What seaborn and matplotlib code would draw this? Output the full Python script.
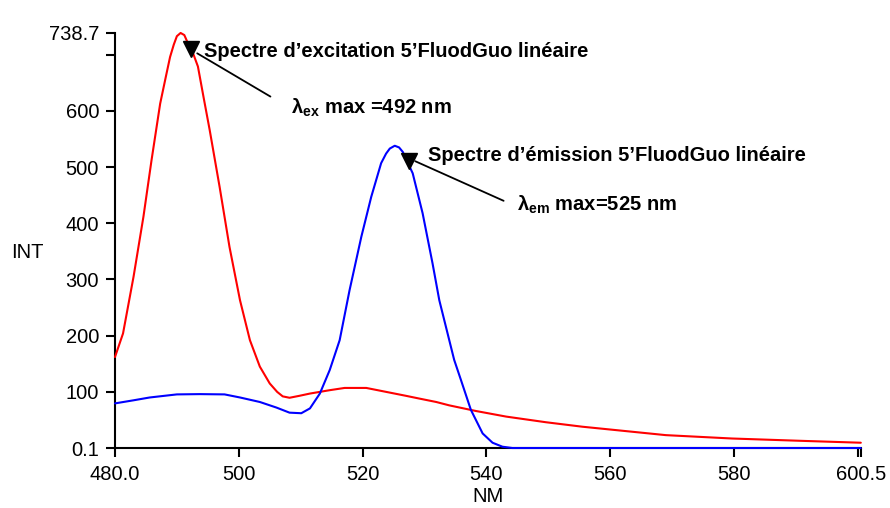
import matplotlib
matplotlib.use("Agg")
import matplotlib.pyplot as plt
import seaborn as sns
import pandas as pd

# excitation spectrum (red)
ex_nm = [480.0, 481.3, 483.0, 484.6, 485.9, 487.3, 488.2, 488.9, 489.5, 490.0, 490.6, 491.2,
         491.8, 492.6, 493.4, 494.3, 495.3, 496.9, 498.5, 500.2, 501.8, 503.4, 505.0, 506.2,
         507.1, 508.2, 509.8, 511.5, 514.7, 517.1, 520.6, 523.8, 527.0, 529.2, 531.9, 534.0,
         538.3, 543.2, 549.6, 555.5, 560.0, 569.0, 579.7, 590.5, 600.5]
ex_int = [162, 204, 305, 412, 512, 613, 660, 696, 718, 733, 738.7, 735,
          720, 703, 679, 625, 566, 465, 358, 263, 192, 145, 115, 100,
          92, 89.5, 93, 97, 103, 107, 107, 100, 93, 88, 82, 76,
          66, 56, 46, 38, 33, 23, 17, 13, 9.5]

# emission spectrum (blue)
em_nm = [480.0, 483.0, 485.6, 490.0, 493.7, 497.7, 500.2, 503.4, 506.1, 508.2, 510.1, 511.5,
         513.1, 514.7, 516.3, 517.9, 519.8, 521.4, 523.0, 523.8, 524.4, 525.2, 525.9, 526.5,
         528.1, 529.7, 531.3, 532.4, 534.8, 535.9, 537.5, 539.4, 541.0, 542.6, 544.2, 600.5]
em_int = [79.5, 85, 90, 95.5, 96, 95.5, 90, 82, 72, 63, 62, 70.6,
          97, 139, 192, 281, 376, 447, 507, 524, 533, 538, 535, 527,
          489, 418, 329, 263, 157, 121, 68, 26, 9.5, 2.4, 0.1, 0.1]

x_ticks = [480, 500, 520, 540, 560, 580, 600, 600.5]
x_labels = ['480.0', '500', '520', '540', '560', '580', '', '600.5']
y_ticks = [0.1, 100, 200, 300, 400, 500, 600, 700, 738.7]
y_labels = ['0.1', '100', '200', '300', '400', '500', '600', '', '738.7']

ex = pd.DataFrame({'NM': ex_nm, 'INT': ex_int})
em = pd.DataFrame({'NM': em_nm, 'INT': em_int})

sns.set_style('ticks')
plt.rcParams['font.family'] = ['Liberation Sans', 'DejaVu Sans']
plt.rcParams['text.color'] = 'black'
plt.rcParams['axes.labelcolor'] = 'black'
plt.rcParams['mathtext.fontset'] = 'custom'
plt.rcParams['mathtext.rm'] = 'Liberation Sans'
plt.rcParams['mathtext.bf'] = 'Liberation Sans:bold'
plt.rcParams['mathtext.it'] = 'Liberation Sans:italic'

fig = plt.figure(figsize=(8.9, 5.08), dpi=100)
ax = fig.add_axes([0.1292, 0.1181, 0.838, 0.817])

sns.lineplot(data=ex, x='NM', y='INT', ax=ax, color='#ff0000', linewidth=1.5, zorder=3, clip_on=False)
sns.lineplot(data=em, x='NM', y='INT', ax=ax, color='#0000ff', linewidth=1.5, zorder=3, clip_on=False)

ax.set_xlim(480, 600.5)
ax.set_ylim(0.1, 738.7)
ax.set_xticks(x_ticks)
ax.set_xticklabels(x_labels)
ax.set_yticks(y_ticks)
ax.set_yticklabels(y_labels)
ax.tick_params(axis='both', labelsize=14.5, length=6.5, width=1.5, color='black', labelcolor='black')
ax.tick_params(axis='x', pad=6)
ax.tick_params(axis='y', pad=5)
for s in ['top', 'right']:
    ax.spines[s].set_visible(False)
for s in ['left', 'bottom']:
    ax.spines[s].set_linewidth(1.5)
    ax.spines[s].set_color('black')

ax.set_xlabel('NM', fontsize=14.5, labelpad=2, color='black')
ax.set_ylabel('INT', fontsize=14.5, rotation=0, ha='center', va='center', color='black')
ax.yaxis.set_label_coords(-0.117, 0.472)

# annotations
ax.annotate('', xy=(492.9, 705), xytext=(505.5, 623),
            arrowprops=dict(arrowstyle='-', color='black', lw=1.3))
ax.plot([492.3], [710], marker='v', color='black', markersize=11, zorder=4, clip_on=False)
ax.text(494.4, 705, 'Spectre d\u2019excitation 5\u2019FluodGuo lin\u00e9aire', fontsize=14.5,
        fontweight='bold', ha='left', va='center', color='black')
ax.text(508.5, 605, r'$\mathbf{\lambda_{ex}}$ max =492 nm', fontsize=14.5,
        fontweight='bold', ha='left', va='center', color='black')

ax.annotate('', xy=(528.1, 512.5), xytext=(543.2, 438),
            arrowprops=dict(arrowstyle='-', color='black', lw=1.3))
ax.plot([527.5], [511], marker='v', color='black', markersize=11, zorder=4, clip_on=False)
ax.text(530.5, 521, 'Spectre d\u2019\u00e9mission 5\u2019FluodGuo lin\u00e9aire', fontsize=14.5,
        fontweight='bold', ha='left', va='center', color='black')
ax.text(545, 432, r'$\mathbf{\lambda_{em}}$ max=525 nm', fontsize=14.5,
        fontweight='bold', ha='left', va='center', color='black')

fig.savefig('out.png', dpi=100)
